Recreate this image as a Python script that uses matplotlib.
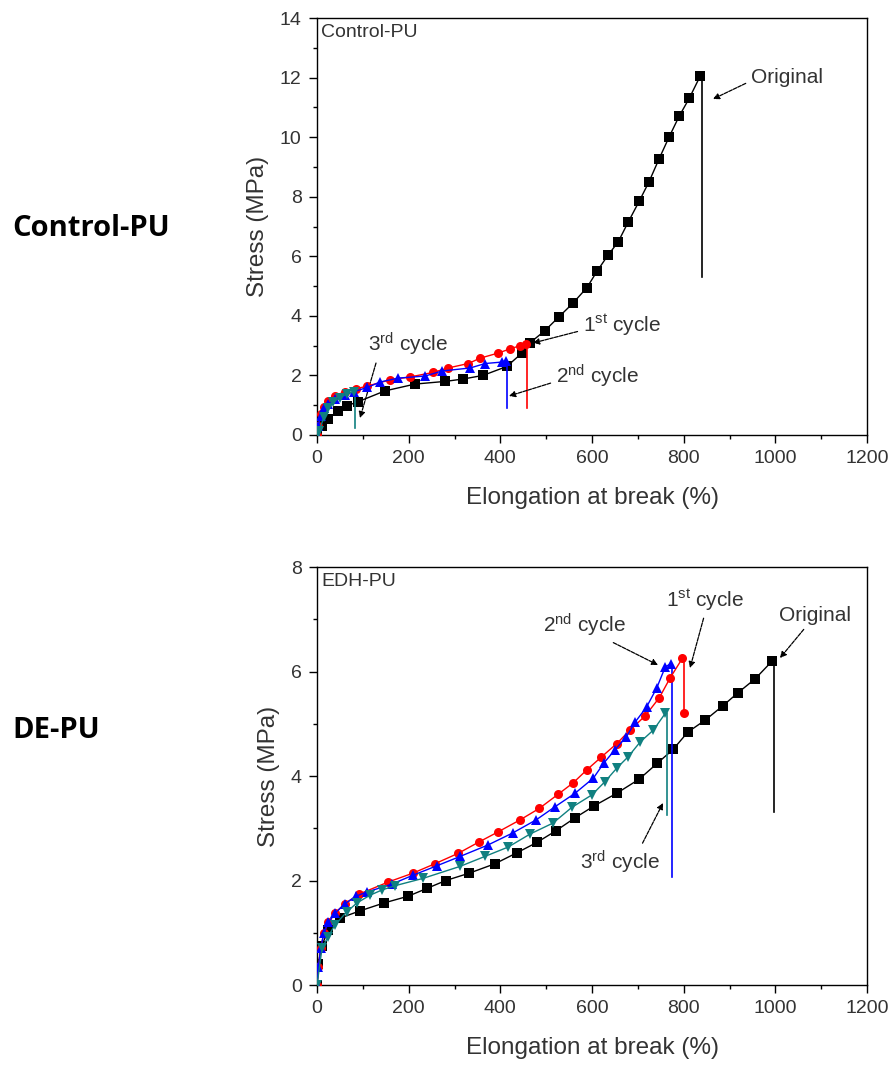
import matplotlib
matplotlib.use('Agg')
import matplotlib.pyplot as plt
from matplotlib.ticker import MultipleLocator

plt.rcParams['font.family'] = ['Liberation Sans', 'DejaVu Sans']
plt.rcParams['mathtext.fontset'] = 'custom'
plt.rcParams['mathtext.rm'] = 'Liberation Sans'
plt.rcParams['mathtext.default'] = 'regular'

TXT = '#333333'

# ---- Control-PU (top panel) ----
ctrl_orig_x = [0, 10, 25, 45, 65, 90, 148, 214, 280, 319, 362, 414, 447, 465, 497, 528,
               558, 589, 611, 635, 657, 679, 703, 724, 746, 768, 790, 812, 836]
ctrl_orig_y = [0, 0.3, 0.55, 0.8, 0.98, 1.12, 1.48, 1.71, 1.8, 1.88, 2.0, 2.3, 2.75, 3.1,
               3.5, 3.97, 4.42, 4.95, 5.5, 6.04, 6.48, 7.15, 7.85, 8.49, 9.26, 10.0, 10.7,
               11.3, 12.05]
ctrl_c1_x = [0, 3, 8, 15, 25, 40, 60, 85, 109, 159, 203, 253, 286, 330, 356, 395, 421, 443, 456]
ctrl_c1_y = [0, 0.3, 0.7, 0.95, 1.15, 1.32, 1.45, 1.55, 1.64, 1.85, 1.95, 2.1, 2.25, 2.4,
             2.58, 2.75, 2.89, 3.0, 3.05]
ctrl_c2_x = [0, 3, 8, 15, 25, 40, 60, 80, 110, 138, 177, 236, 273, 334, 367, 404, 412]
ctrl_c2_y = [0, 0.3, 0.65, 0.9, 1.05, 1.2, 1.35, 1.45, 1.6, 1.78, 1.91, 1.98, 2.15, 2.25,
             2.4, 2.45, 2.5]
ctrl_c3_x = [0, 5, 15, 25, 35, 50, 65, 80]
ctrl_c3_y = [0, 0.15, 0.6, 0.9, 1.1, 1.25, 1.38, 1.45]
# stress the trace falls to after break (Original, 1st, 2nd, 3rd)
ctrl_drop = [5.3, 0.9, 0.9, 0.25]

# ---- EDH-PU (bottom panel) ----
edh_orig_x = [0, 3, 10, 25, 50, 94, 146, 199, 240, 281, 332, 388, 436, 480, 521, 563, 605,
              654, 703, 742, 777, 809, 847, 885, 918, 956, 993]
edh_orig_y = [0, 0.4, 0.75, 1.05, 1.28, 1.42, 1.57, 1.7, 1.85, 2.0, 2.14, 2.32, 2.53, 2.73,
              2.95, 3.2, 3.43, 3.67, 3.94, 4.24, 4.51, 4.84, 5.07, 5.34, 5.59, 5.86, 6.2]
edh_c1_x = [0, 3, 8, 15, 25, 40, 60, 92, 155, 209, 257, 308, 354, 395, 443, 485, 526, 559,
            589, 620, 654, 683, 716, 747, 770, 797]
edh_c1_y = [0, 0.35, 0.7, 1.0, 1.2, 1.38, 1.55, 1.74, 1.97, 2.14, 2.32, 2.52, 2.74, 2.93,
            3.16, 3.38, 3.65, 3.87, 4.12, 4.36, 4.62, 4.88, 5.15, 5.5, 5.87, 6.25]
edh_c2_x = [0, 3, 8, 15, 25, 40, 60, 85, 109, 163, 209, 261, 312, 373, 427, 478, 519, 563,
            603, 626, 650, 675, 694, 719, 741, 760, 772]
edh_c2_y = [0, 0.35, 0.7, 1.0, 1.2, 1.38, 1.55, 1.7, 1.78, 1.93, 2.1, 2.28, 2.46, 2.68,
            2.91, 3.16, 3.41, 3.67, 3.96, 4.25, 4.5, 4.75, 5.03, 5.32, 5.68, 6.09, 6.15]
edh_c3_x = [0, 11, 24, 39, 65, 87, 116, 142, 170, 231, 312, 366, 417, 465, 515, 556, 600,
            628, 654, 679, 705, 734, 760]
edh_c3_y = [0, 0.71, 0.92, 1.15, 1.4, 1.57, 1.72, 1.82, 1.9, 2.04, 2.27, 2.46, 2.64, 2.89,
            3.1, 3.4, 3.64, 3.89, 4.15, 4.37, 4.65, 4.88, 5.2]
edh_drop = [3.31, 5.2, 2.07, 3.25]

colors = ['black', '#ff0000', '#0000ff', '#108080']
markers = ['s', 'o', '^', 'v']
msizes = [6.5, 6.5, 7.5, 7.5]


def draw_series(ax, xs, ys, drops, drop_marked):
    for i in range(len(xs)):
        x, y, c = xs[i], ys[i], colors[i]
        ax.plot(x, y, color=c, lw=1.0, marker=markers[i], ms=msizes[i],
                markeredgewidth=0, zorder=3 + i * 0.1)
        xe = x[-1] + 3
        ax.plot([x[-1], xe, xe], [y[-1], y[-1], drops[i]], color=c, lw=1.2, zorder=3)
        if drop_marked[i]:
            ax.plot([xe], [drops[i]], color=c, marker=markers[i], ms=msizes[i],
                    markeredgewidth=0, zorder=4)


def style_axes(ax, ymax, ystep):
    ax.set_xlim(0, 1200)
    ax.set_ylim(0, ymax)
    ax.xaxis.set_major_locator(MultipleLocator(200))
    ax.xaxis.set_minor_locator(MultipleLocator(100))
    ax.yaxis.set_major_locator(MultipleLocator(ystep))
    ax.yaxis.set_minor_locator(MultipleLocator(ystep / 2))
    ax.tick_params(which='both', direction='out', top=False, right=False,
                   labelsize=14, labelcolor=TXT, width=1.0)
    ax.tick_params(which='major', length=6, pad=5)
    ax.tick_params(which='minor', length=3)
    for s in ax.spines.values():
        s.set_linewidth(1.0)
    ax.set_xlabel('Elongation at break (%)', fontsize=17.5, color=TXT, labelpad=14)
    ax.set_ylabel('Stress (MPa)', fontsize=17.5, color=TXT, labelpad=8)


def note(ax, text, axy, txy, rel):
    ax.annotate(text, xy=axy, xytext=txy, fontsize=15, color=TXT,
                ha='left', va='center',
                arrowprops=dict(arrowstyle='-|>', color='black', lw=0.9,
                                linestyle=(0, (3, 1)), mutation_scale=9,
                                shrinkA=2, shrinkB=0, relpos=rel))


fig = plt.figure(figsize=(8.94, 10.68), dpi=100)

ax1 = fig.add_axes([0.3546, 0.5927, 0.6152, 0.3904])
draw_series(ax1, [ctrl_orig_x, ctrl_c1_x, ctrl_c2_x, ctrl_c3_x],
            [ctrl_orig_y, ctrl_c1_y, ctrl_c2_y, ctrl_c3_y], ctrl_drop,
            [False, False, False, False])
style_axes(ax1, 14, 2)
ax1.text(0.008, 0.985, 'Control-PU', transform=ax1.transAxes, fontsize=14,
         color=TXT, ha='left', va='top')

def px1(px, py):
    return ((px - 317) / 550 * 1200, (435 - py) / 417 * 14)

note(ax1, 'Original', px1(713, 99), px1(751, 77), (0, 0.3))
note(ax1, '1$^{st}$ cycle', px1(533, 343), px1(583, 325), (0, 0.3))
note(ax1, '2$^{nd}$ cycle', px1(509, 396), px1(556, 376), (0, 0.3))
note(ax1, '3$^{rd}$ cycle', px1(360, 418), px1(368, 344), (0.12, 0))

ax2 = fig.add_axes([0.3546, 0.0777, 0.6152, 0.3914])
draw_series(ax2, [edh_orig_x, edh_c1_x, edh_c2_x, edh_c3_x],
            [edh_orig_y, edh_c1_y, edh_c2_y, edh_c3_y], edh_drop,
            [False, True, False, False])
style_axes(ax2, 8, 2)
ax2.text(0.008, 0.985, 'EDH-PU', transform=ax2.transAxes, fontsize=14,
         color=TXT, ha='left', va='top')

def px2(px, py):
    return ((px - 317) / 550 * 1200, (985 - py) / 418 * 8)

note(ax2, 'Original', px2(780, 658), px2(779, 615), (0.4, 0))
note(ax2, '1$^{st}$ cycle', px2(690, 668), px2(666, 600), (0.5, 0))
note(ax2, '2$^{nd}$ cycle', px2(658, 665), px2(543, 625), (0.75, 0))
note(ax2, '3$^{rd}$ cycle', px2(663, 803), px2(580, 862), (0.75, 1))

fig.text(12 / 894, 1 - 228 / 1068, 'Control-PU', fontsize=21, fontweight='bold',
         family=['Open Sans', 'DejaVu Sans'], ha='left', va='center')
fig.text(12 / 894, 1 - 730 / 1068, 'DE-PU', fontsize=21, fontweight='bold',
         family=['Open Sans', 'DejaVu Sans'], ha='left', va='center')

fig.savefig('out.png', dpi=100)
